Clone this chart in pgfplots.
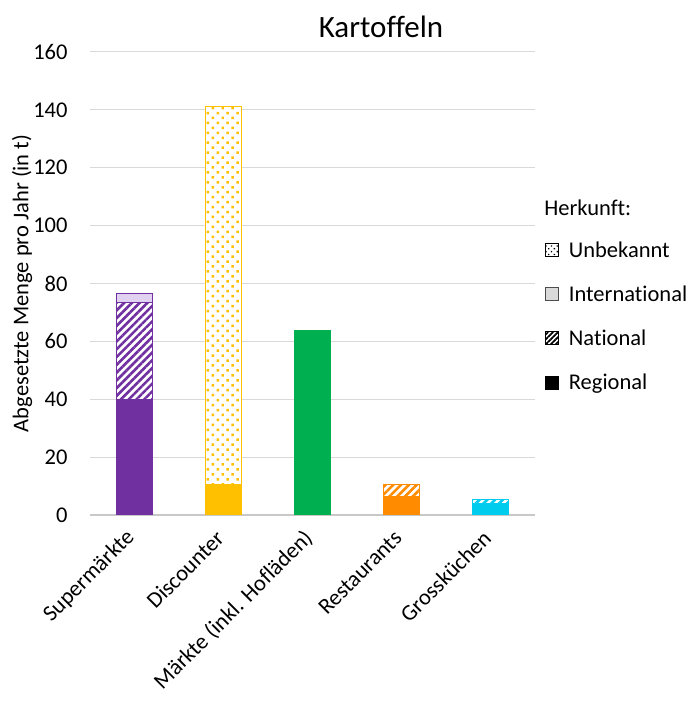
\documentclass[border=0pt]{standalone}
\usepackage{fontspec}
\setmainfont{Carlito}[Ligatures=NoCommon]
\usepackage{pgfplots}
\pgfplotsset{compat=1.18}
\usetikzlibrary{patterns.meta}
\definecolor{cpurple}{RGB}{112,48,160}
\definecolor{cpurplelight}{RGB}{226,210,242}
\definecolor{cyellow}{RGB}{255,192,0}
\definecolor{cgreen}{RGB}{0,176,80}
\definecolor{corange}{RGB}{255,140,0}
\definecolor{ccyan}{RGB}{0,204,238}
\definecolor{gridgray}{RGB}{217,217,217}
\definecolor{axgray}{RGB}{200,200,200}
\newcommand{\fs}{\fontsize{22.5bp}{26bp}\selectfont}
\pgfplotsset{
 base/.style={
  scale only axis, width=445bp, height=463bp,
  at={(90bp,192bp)}, anchor=south west,
  xmin=-0.5, xmax=4.5, ymin=0, ymax=160,
  ybar stacked, bar width=36bp,
 },
 reg/.style={fill=#1, draw=#1, line width=0.8bp},
 nat/.style={draw=#1, fill=white, line width=0.8bp, postaction={pattern={Lines[angle=45,distance=5.5bp,line width=2.6bp]}, pattern color=#1}},
 unk/.style={draw=#1, fill=white, line width=0.9bp, postaction={pattern={Dots[angle=45,distance=7bp,radius=1.75bp]}, pattern color=#1}},
}
\begin{document}
\begin{tikzpicture}
\useasboundingbox (0,0) rectangle (694bp,707bp);
% axis with grid, ticks and Supermaerkte
\begin{axis}[base,
  axis x line*=bottom, axis y line*=left,
  y axis line style={draw=none},
  x axis line style={draw=axgray, line width=1.3bp},
  ymajorgrids, grid style={gridgray, line width=1bp},
  major tick length=0pt,
  ytick={0,20,...,160},
  xtick={0,1,2,3,4},
  xticklabels={Supermärkte, Discounter, Märkte (inkl. Hofläden), Restaurants, Grossküchen},
  xticklabel style={xshift=-1bp, yshift=-17bp, rotate=45, anchor=east, font=\fs},
  yticklabel style={font=\fs, xshift=-19bp},
  /pgf/number format/assume math mode=true,
  ylabel={Abgesetzte Menge pro Jahr (in t)},
  ylabel style={at={(axis description cs:-0.1528,0.5)}, anchor=center, font=\fs},
]
\addplot[reg=cpurple] coordinates {(0,40)};
\addplot[nat=cpurple] coordinates {(0,33.5)};
\addplot[draw=cpurple, fill=cpurplelight, line width=0.8bp] coordinates {(0,3)};
\end{axis}
% Discounter
\begin{axis}[base, hide axis]
\addplot[reg=cyellow] coordinates {(1,10.5)};
\addplot[unk=cyellow] coordinates {(1,130.8)};
\end{axis}
% Maerkte
\begin{axis}[base, hide axis]
\addplot[reg=cgreen] coordinates {(2,63.8)};
\end{axis}
% Restaurants
\begin{axis}[base, hide axis]
\addplot[reg=corange] coordinates {(3,6.5)};
\addplot[nat=corange] coordinates {(3,4)};
\end{axis}
% Grosskuechen
\begin{axis}[base, hide axis]
\addplot[reg=ccyan] coordinates {(4,4)};
\addplot[nat=ccyan] coordinates {(4,1.5)};
\end{axis}
% legend and titles
\begin{axis}[base, hide axis, clip=false,
  legend image code/.code={\draw[#1] (0bp,-6.5bp) rectangle (13bp,6.5bp); \path (21bp,0bp);},
  legend cell align=left,
  legend style={at={(axis description cs:1.016,0.6)}, anchor=north west, draw=none, fill=none, row sep=23bp, font=\fs},
]
\addlegendimage{draw=black, fill=white, line width=0.6bp, postaction={pattern={Dots[angle=45,distance=4bp,radius=0.9bp]}, pattern color=black}}
\addlegendentry{Unbekannt}
\addlegendimage{draw=black!70, fill=gridgray, line width=0.6bp}
\addlegendentry{International}
\addlegendimage{draw=none, fill=white, postaction={pattern={Lines[angle=45,distance=3.5bp,line width=1.7bp]}, pattern color=black}}
\addlegendentry{National}
\addlegendimage{draw=black, fill=black}
\addlegendentry{Regional}
\node[anchor=west, font=\fs] at (axis description cs:1.013,0.663) {Herkunft:};
\node[anchor=center, font=\fontsize{31bp}{36bp}\selectfont] at (axis description cs:0.654,1.054) {Kartoffeln};
\end{axis}
\end{tikzpicture}
\end{document}
